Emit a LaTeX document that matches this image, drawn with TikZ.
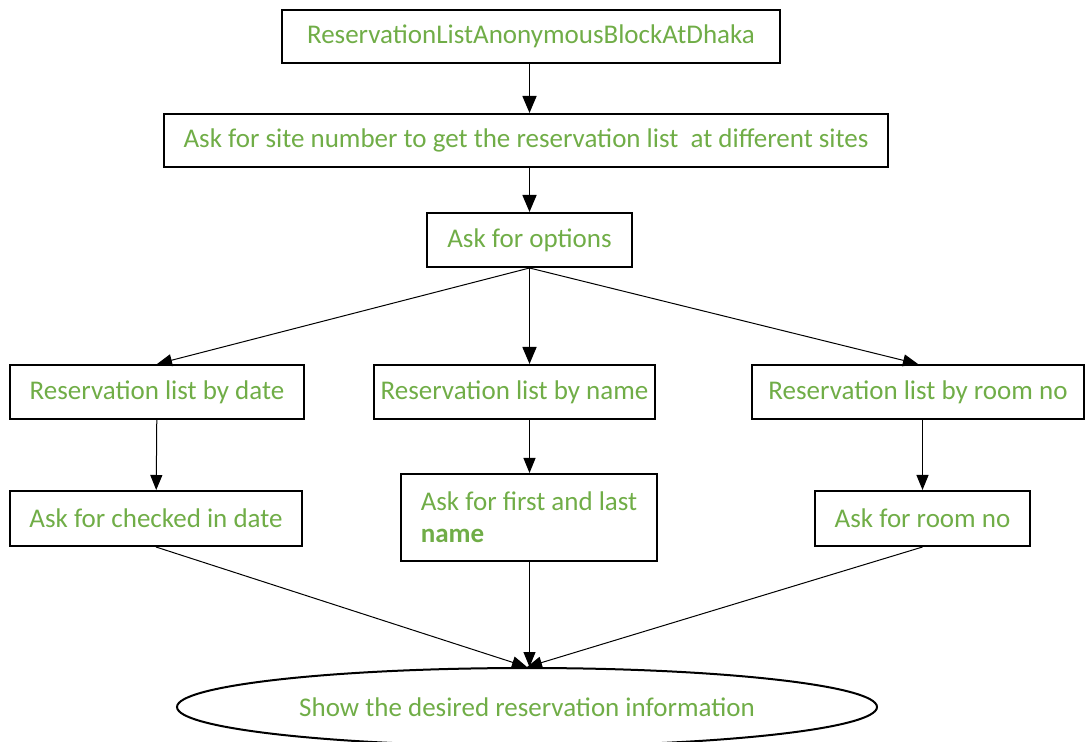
\documentclass[tikz,border=0pt]{standalone}
\usepackage{fontspec}
\setmainfont{Carlito}
\usepackage{xcolor}
\usetikzlibrary{shapes,arrows.meta,positioning,calc}
\definecolor{officegreen}{HTML}{70AD47}

\begin{document}
\begin{tikzpicture}[
    x=0.5pt, y=-0.5pt,
    box/.style={rectangle, draw, line width=1pt, minimum height=26.5pt, inner sep=2pt,
        text=officegreen, font=\fontsize{13.5}{16}\selectfont},
    sink/.style={ellipse, draw, line width=1pt, minimum width=350pt, minimum height=39pt,
        text=officegreen, font=\fontsize{13.5}{16}\selectfont},
    flow/.style={-{Triangle[length=8.5pt,width=7pt]}, line width=0.8pt},
    thin flow/.style={-{Triangle[length=7.5pt,width=6pt]}, line width=0.5pt}
]
    \useasboundingbox (0,0) rectangle (1086,742);

    % Top chain
    \node[box, minimum width=249pt] (block) at (531,36.5) {ReservationListAnonymousBlockAtDhaka};
    \node[box, minimum width=362pt] (site) at (526,140.5) {Ask for site number to get the reservation list \ at different sites};
    \node[box, minimum width=102.5pt, minimum height=27pt] (options) at (529.5,240) {Ask for options};

    % Reservation lists
    \node[box, minimum width=147pt, minimum height=27pt] (bydate) at (157,392) {Reservation list by date};
    \node[box, minimum width=140.5pt, minimum height=27pt] (byname) at (514.5,392) {Reservation list by name};
    \node[box, minimum width=166pt, minimum height=27pt] (byroom) at (918,392) {Reservation list by room no};

    % Questions
    \node[box, minimum width=128pt, minimum height=43.5pt, align=left] (askname) at (529,517.5)
        {Ask for first and last\\\textbf{name}};
    \node[box, minimum width=146pt, minimum height=27.5pt] (askdate) at (156,518.5) {Ask for checked in date};
    \node[box, minimum width=107.5pt, minimum height=27.5pt] (askroom) at (922.5,518.5) {Ask for room no};

    % Result
    \node[sink] (show) at (527,707) {Show the desired reservation information};

    % Arrows
    \draw[flow] (options.north |- block.south) -- (options.north |- site.north);
    \draw[flow] (options.north |- site.south) -- (options.north);
    \draw[thin flow] (options.south) -- (bydate.north);
    \draw[flow] (options.south) -- (options.south |- byname.north);
    \draw[thin flow] (options.south) -- (byroom.north);
    \draw[thin flow] (bydate) -- (askdate);
    \draw[thin flow] (options.south |- byname.south) -- (options.south |- askname.north);
    \draw[thin flow] (byroom.south -| askroom.north) -- (askroom);
    \draw[thin flow] (askdate.south) -- (show.north);
    \draw[thin flow] (options.south |- askname.south) -- (options.south |- show.north);
    \draw[thin flow] (askroom.south) -- (show.north);
\end{tikzpicture}
\end{document}
